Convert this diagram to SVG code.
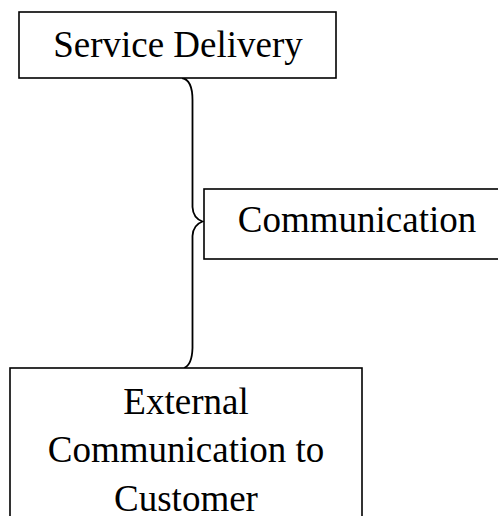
<svg xmlns="http://www.w3.org/2000/svg" width="498" height="516" viewBox="0 0 498 516">
<style>
.box{fill:#fff;stroke:#000;stroke-width:1.6}
.t{font-family:"Liberation Serif","Times New Roman",serif;font-size:37px;fill:#000;text-anchor:middle}
.c{fill:none;stroke:#000;stroke-width:1.8}
</style>
<rect width="498" height="516" fill="#fff"/>
<g id="connectors">
<path class="c" d="M182,78 Q192.5,80 192.5,100 L192.5,207 Q193,218 202.5,221.5 Q193,225 192.5,236 L192.5,348 Q192,365 184,368"/>
</g>
<g id="service-delivery">
<rect class="box" x="19" y="12" width="317" height="66"/>
<text class="t" x="178" y="57">Service Delivery</text>
</g>
<g id="communication">
<rect class="box" x="204" y="189" width="300" height="70"/>
<text class="t" x="357" y="232">Communication</text>
</g>
<g id="external-communication">
<rect class="box" x="10" y="368" width="352" height="160"/>
<text class="t" x="186" y="414">External</text>
<text class="t" x="186" y="462">Communication to</text>
<text class="t" x="186" y="511">Customer</text>
</g>
</svg>
